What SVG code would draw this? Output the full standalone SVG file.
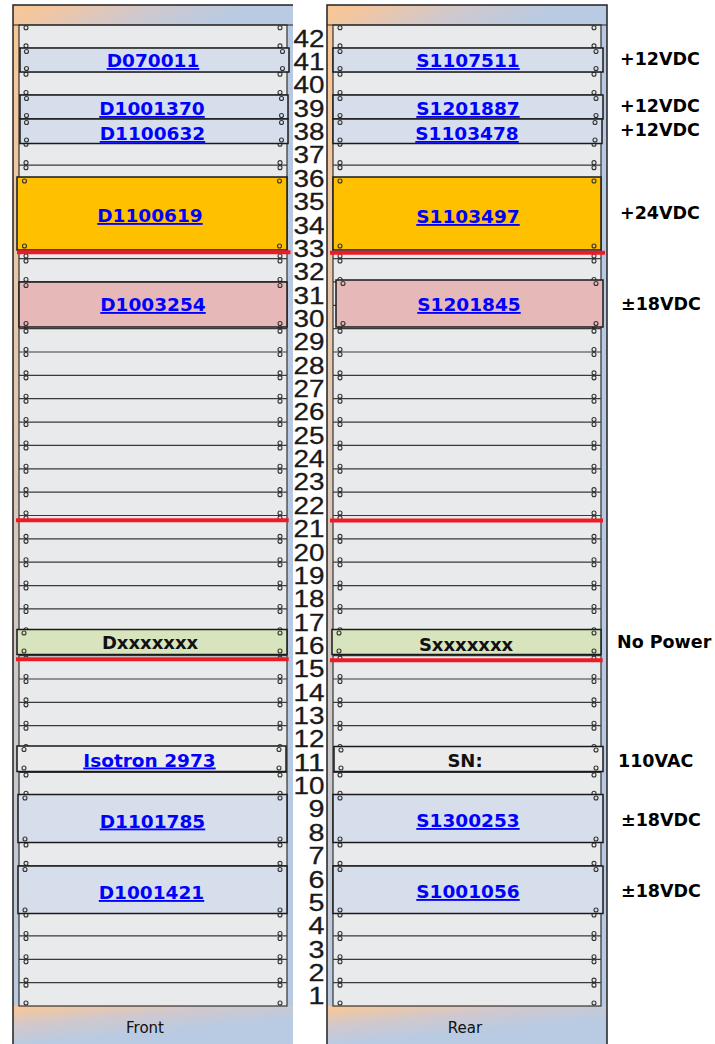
<svg xmlns="http://www.w3.org/2000/svg" xmlns:xlink="http://www.w3.org/1999/xlink" width="715" height="1044" viewBox="0 0 715 1044">
<style>
.lnk{font-family:"DejaVu Sans","Liberation Sans",sans-serif;font-weight:bold;font-size:18.5px;fill:#0000ff;text-decoration:underline;text-anchor:middle}
.blk{font-family:"DejaVu Sans","Liberation Sans",sans-serif;font-weight:bold;font-size:18px;fill:#111;text-anchor:middle}
.pwr{font-family:"DejaVu Sans","Liberation Sans",sans-serif;font-weight:bold;font-size:17.5px;fill:#000}
.num{font-family:"Liberation Sans",Arial,sans-serif;font-size:24.5px;fill:#1a1a1a;text-anchor:end;stroke:#1a1a1a;stroke-width:0.3}
.foot{font-family:"DejaVu Sans","Liberation Sans",sans-serif;font-size:15px;fill:#111;text-anchor:middle}
.dev{stroke:#1a1a1a;stroke-width:1.5}
.blue{fill:#d5deea}
.org{fill:#ffc000}
.pnk{fill:#e6b9b8}
.grn{fill:#d7e4bd}
.gry{fill:#ebebeb}
.red{stroke:#ed1c24;stroke-width:4}
.edge{fill:none;stroke:#222;stroke-width:1.5}
</style>
<defs>
<linearGradient id="gBody" x1="0" y1="0" x2="1" y2="1"><stop offset="0" stop-color="#fbc793"/><stop offset="0.5" stop-color="#b8cae3"/></linearGradient>
<linearGradient id="gHead" x1="0" y1="0" x2="1" y2="0.15"><stop offset="0" stop-color="#fac794"/><stop offset="0.15" stop-color="#f3c69f"/><stop offset="0.5" stop-color="#d0c8cd"/><stop offset="0.85" stop-color="#b8cbe3"/></linearGradient>
<linearGradient id="gFoot" x1="0" y1="0" x2="0.7" y2="1"><stop offset="0" stop-color="#fac794"/><stop offset="0.35" stop-color="#d0c8cd"/><stop offset="0.7" stop-color="#b8cbe3"/></linearGradient>
<circle id="s1" r="2" fill="none" stroke="#333" stroke-width="1.1"/>
<g id="s8" fill="none" stroke="#333" stroke-width="1.1"><circle cy="-2.5" r="2"/><circle cy="2.5" r="2"/></g>
<g id="col">
<use href="#s1" y="27.8"/>
<use href="#s8" y="48.36"/><use href="#s8" y="71.71"/><use href="#s8" y="95.07"/><use href="#s8" y="118.43"/><use href="#s8" y="141.79"/><use href="#s8" y="165.14"/><use href="#s8" y="188.5"/><use href="#s8" y="211.86"/><use href="#s8" y="235.21"/><use href="#s8" y="258.57"/>
<use href="#s8" y="281.93"/><use href="#s8" y="305.29"/><use href="#s8" y="328.64"/><use href="#s8" y="352"/><use href="#s8" y="375.36"/><use href="#s8" y="398.71"/><use href="#s8" y="422.07"/><use href="#s8" y="445.43"/><use href="#s8" y="468.79"/><use href="#s8" y="492.14"/>
<use href="#s8" y="515.5"/><use href="#s8" y="538.86"/><use href="#s8" y="562.21"/><use href="#s8" y="585.57"/><use href="#s8" y="608.93"/><use href="#s8" y="632.29"/><use href="#s8" y="655.64"/><use href="#s8" y="679"/><use href="#s8" y="702.36"/><use href="#s8" y="725.71"/>
<use href="#s8" y="749.07"/><use href="#s8" y="772.43"/><use href="#s8" y="795.79"/><use href="#s8" y="819.14"/><use href="#s8" y="842.5"/><use href="#s8" y="865.86"/><use href="#s8" y="889.21"/><use href="#s8" y="912.57"/><use href="#s8" y="935.93"/><use href="#s8" y="959.29"/>
<use href="#s8" y="982.64"/>
<use href="#s1" y="1003"/>
</g>
<g id="slots">
<rect x="19" y="25" width="268" height="981" fill="#e9eaec" stroke="#333" stroke-width="1.2"/>
<path fill="none" stroke="#3a3a3a" stroke-width="1.2" d="M19 48.36H287M19 71.71H287M19 95.07H287M19 118.43H287M19 141.79H287M19 165.14H287M19 188.5H287M19 211.86H287M19 235.21H287M19 258.57H287M19 281.93H287M19 305.29H287M19 328.64H287M19 352H287M19 375.36H287M19 398.71H287M19 422.07H287M19 445.43H287M19 468.79H287M19 492.14H287M19 515.5H287M19 538.86H287M19 562.21H287M19 585.57H287M19 608.93H287M19 632.29H287M19 655.64H287M19 679H287M19 702.36H287M19 725.71H287M19 749.07H287M19 772.43H287M19 795.79H287M19 819.14H287M19 842.5H287M19 865.86H287M19 889.21H287M19 912.57H287M19 935.93H287M19 959.29H287M19 982.64H287"/>
<use href="#col" x="26"/>
<use href="#col" x="280"/>
</g>
</defs>

<rect x="0" y="0" width="715" height="1044" fill="#ffffff"/>

<g id="rack-front">
<rect x="13" y="5" width="280" height="1045" fill="url(#gBody)"/>
<rect x="13" y="5" width="280" height="20" fill="url(#gHead)"/>
<rect x="13" y="1006" width="280" height="40" fill="url(#gFoot)"/>
<use href="#slots"/>
<path class="edge" d="M293 5H13V1044"/>
<path d="M13 25H293" stroke="#222" stroke-width="1.2"/>
<text class="foot" x="145" y="1033">Front</text>
</g>

<g id="rack-rear">
<rect x="327" y="5" width="280" height="1045" fill="url(#gBody)"/>
<rect x="327" y="5" width="280" height="20" fill="url(#gHead)"/>
<rect x="327" y="1006" width="280" height="40" fill="url(#gFoot)"/>
<use href="#slots" x="314"/>
<path class="edge" d="M327 1044V5H607V1044"/>
<path d="M327 25H607" stroke="#222" stroke-width="1.2"/>
<text class="foot" x="465" y="1033">Rear</text>
</g>

<g id="unit-numbers" class="num">
<text x="324.5" y="46.7" textLength="31" lengthAdjust="spacingAndGlyphs">42</text>
<text x="324.5" y="70.06" textLength="31" lengthAdjust="spacingAndGlyphs">41</text>
<text x="324.5" y="93.41" textLength="31" lengthAdjust="spacingAndGlyphs">40</text>
<text x="324.5" y="116.77" textLength="31" lengthAdjust="spacingAndGlyphs">39</text>
<text x="324.5" y="140.13" textLength="31" lengthAdjust="spacingAndGlyphs">38</text>
<text x="324.5" y="163.49" textLength="31" lengthAdjust="spacingAndGlyphs">37</text>
<text x="324.5" y="186.84" textLength="31" lengthAdjust="spacingAndGlyphs">36</text>
<text x="324.5" y="210.2" textLength="31" lengthAdjust="spacingAndGlyphs">35</text>
<text x="324.5" y="233.56" textLength="31" lengthAdjust="spacingAndGlyphs">34</text>
<text x="324.5" y="256.91" textLength="31" lengthAdjust="spacingAndGlyphs">33</text>
<text x="324.5" y="280.27" textLength="31" lengthAdjust="spacingAndGlyphs">32</text>
<text x="324.5" y="303.63" textLength="31" lengthAdjust="spacingAndGlyphs">31</text>
<text x="324.5" y="326.99" textLength="31" lengthAdjust="spacingAndGlyphs">30</text>
<text x="324.5" y="350.34" textLength="31" lengthAdjust="spacingAndGlyphs">29</text>
<text x="324.5" y="373.7" textLength="31" lengthAdjust="spacingAndGlyphs">28</text>
<text x="324.5" y="397.06" textLength="31" lengthAdjust="spacingAndGlyphs">27</text>
<text x="324.5" y="420.41" textLength="31" lengthAdjust="spacingAndGlyphs">26</text>
<text x="324.5" y="443.77" textLength="31" lengthAdjust="spacingAndGlyphs">25</text>
<text x="324.5" y="467.13" textLength="31" lengthAdjust="spacingAndGlyphs">24</text>
<text x="324.5" y="490.49" textLength="31" lengthAdjust="spacingAndGlyphs">23</text>
<text x="324.5" y="513.84" textLength="31" lengthAdjust="spacingAndGlyphs">22</text>
<text x="324.5" y="537.2" textLength="31" lengthAdjust="spacingAndGlyphs">21</text>
<text x="324.5" y="560.56" textLength="31" lengthAdjust="spacingAndGlyphs">20</text>
<text x="324.5" y="583.91" textLength="31" lengthAdjust="spacingAndGlyphs">19</text>
<text x="324.5" y="607.27" textLength="31" lengthAdjust="spacingAndGlyphs">18</text>
<text x="324.5" y="630.63" textLength="31" lengthAdjust="spacingAndGlyphs">17</text>
<text x="324.5" y="653.99" textLength="31" lengthAdjust="spacingAndGlyphs">16</text>
<text x="324.5" y="677.34" textLength="31" lengthAdjust="spacingAndGlyphs">15</text>
<text x="324.5" y="700.7" textLength="31" lengthAdjust="spacingAndGlyphs">14</text>
<text x="324.5" y="724.06" textLength="31" lengthAdjust="spacingAndGlyphs">13</text>
<text x="324.5" y="747.41" textLength="31" lengthAdjust="spacingAndGlyphs">12</text>
<text x="324.5" y="770.77" textLength="31" lengthAdjust="spacingAndGlyphs">11</text>
<text x="324.5" y="794.13" textLength="31" lengthAdjust="spacingAndGlyphs">10</text>
<text x="324.5" y="817.49" textLength="16" lengthAdjust="spacingAndGlyphs">9</text>
<text x="324.5" y="840.84" textLength="16" lengthAdjust="spacingAndGlyphs">8</text>
<text x="324.5" y="864.2" textLength="16" lengthAdjust="spacingAndGlyphs">7</text>
<text x="324.5" y="887.56" textLength="16" lengthAdjust="spacingAndGlyphs">6</text>
<text x="324.5" y="910.91" textLength="16" lengthAdjust="spacingAndGlyphs">5</text>
<text x="324.5" y="934.27" textLength="16" lengthAdjust="spacingAndGlyphs">4</text>
<text x="324.5" y="957.63" textLength="16" lengthAdjust="spacingAndGlyphs">3</text>
<text x="324.5" y="980.99" textLength="16" lengthAdjust="spacingAndGlyphs">2</text>
<text x="324.5" y="1004.34" textLength="16" lengthAdjust="spacingAndGlyphs">1</text>
</g>

<!-- Front devices -->
<g id="D070011"><rect class="dev blue" x="20" y="48" width="269" height="24"/><use href="#s1" x="26.5" y="51.5"/><use href="#s1" x="26.5" y="68.5"/><use href="#s1" x="282.5" y="51.5"/><use href="#s1" x="282.5" y="68.5"/><text class="lnk" x="153" y="67">D070011</text></g>
<g id="D1001370"><rect class="dev blue" x="20" y="95" width="268" height="24"/><use href="#s1" x="26.5" y="98.5"/><use href="#s1" x="26.5" y="115.5"/><use href="#s1" x="281.5" y="98.5"/><use href="#s1" x="281.5" y="115.5"/><text class="lnk" x="152" y="115">D1001370</text></g>
<g id="D1100632"><rect class="dev blue" x="20" y="119" width="268" height="24.5"/><use href="#s1" x="26.5" y="122.5"/><use href="#s1" x="26.5" y="140"/><use href="#s1" x="281.5" y="122.5"/><use href="#s1" x="281.5" y="140"/><text class="lnk" x="152.5" y="140">D1100632</text></g>
<g id="D1100619"><rect class="dev org" x="17" y="177" width="270" height="73"/><use href="#s1" x="24.5" y="181"/><use href="#s1" x="24.5" y="246"/><use href="#s1" x="279.5" y="181"/><use href="#s1" x="279.5" y="246"/><text class="lnk" x="150" y="222">D1100619</text></g>
<g id="D1003254"><rect class="dev pnk" x="19" y="282" width="268" height="45"/><use href="#s1" x="26" y="285.5"/><use href="#s1" x="26" y="323.5"/><use href="#s1" x="280" y="285.5"/><use href="#s1" x="280" y="323.5"/><text class="lnk" x="153" y="311">D1003254</text></g>
<g id="Dxxxxxxx"><rect class="dev grn" x="17" y="629.5" width="270" height="25"/><use href="#s1" x="24" y="633"/><use href="#s1" x="24" y="651"/><use href="#s1" x="280" y="633"/><use href="#s1" x="280" y="651"/><text class="blk" x="150" y="649">Dxxxxxxx</text></g>
<g id="Isotron2973"><rect class="dev gry" x="17" y="746" width="269" height="25.5"/><use href="#s1" x="24" y="749.5"/><use href="#s1" x="24" y="768"/><use href="#s1" x="279" y="749.5"/><use href="#s1" x="279" y="768"/><text class="lnk" x="149.5" y="766.5">Isotron 2973</text></g>
<g id="D1101785"><rect class="dev blue" x="18" y="794.5" width="269" height="48"/><use href="#s1" x="25" y="798"/><use href="#s1" x="25" y="839"/><use href="#s1" x="280" y="798"/><use href="#s1" x="280" y="839"/><text class="lnk" x="152.5" y="827.5">D1101785</text></g>
<g id="D1001421"><rect class="dev blue" x="18" y="866" width="269" height="47.5"/><use href="#s1" x="25" y="869.5"/><use href="#s1" x="25" y="910"/><use href="#s1" x="280" y="869.5"/><use href="#s1" x="280" y="910"/><text class="lnk" x="151.5" y="899">D1001421</text></g>

<!-- Rear devices -->
<g id="S1107511"><rect class="dev blue" x="333" y="48" width="270" height="24"/><use href="#s1" x="340" y="51.5"/><use href="#s1" x="340" y="68.5"/><use href="#s1" x="596" y="51.5"/><use href="#s1" x="596" y="68.5"/><text class="lnk" x="468" y="67">S1107511</text></g>
<g id="S1201887"><rect class="dev blue" x="333" y="95" width="270" height="24"/><use href="#s1" x="340" y="98.5"/><use href="#s1" x="340" y="115.5"/><use href="#s1" x="596" y="98.5"/><use href="#s1" x="596" y="115.5"/><text class="lnk" x="468" y="115">S1201887</text></g>
<g id="S1103478"><rect class="dev blue" x="333" y="119" width="269" height="24.5"/><use href="#s1" x="340" y="122.5"/><use href="#s1" x="340" y="140"/><use href="#s1" x="595" y="122.5"/><use href="#s1" x="595" y="140"/><text class="lnk" x="467" y="140">S1103478</text></g>
<g id="S1103497"><rect class="dev org" x="333" y="177" width="268" height="73"/><use href="#s1" x="340" y="181"/><use href="#s1" x="340" y="246"/><use href="#s1" x="594" y="181"/><use href="#s1" x="594" y="246"/><text class="lnk" x="468" y="223">S1103497</text></g>
<g id="S1201845"><rect class="dev pnk" x="336" y="280" width="267" height="47"/><use href="#s1" x="343" y="283.5"/><use href="#s1" x="343" y="323.5"/><use href="#s1" x="596" y="283.5"/><use href="#s1" x="596" y="323.5"/><text class="lnk" x="469" y="311">S1201845</text></g>
<g id="Sxxxxxxx"><rect class="dev grn" x="332" y="629.5" width="269" height="25"/><use href="#s1" x="339" y="633"/><use href="#s1" x="339" y="651"/><use href="#s1" x="594" y="633"/><use href="#s1" x="594" y="651"/><text class="blk" x="466" y="650.5">Sxxxxxxx</text></g>
<g id="SN"><rect class="dev gry" x="334" y="746.5" width="269" height="25"/><use href="#s1" x="341" y="750"/><use href="#s1" x="341" y="768"/><use href="#s1" x="596" y="750"/><use href="#s1" x="596" y="768"/><text class="blk" x="465" y="767">SN:</text></g>
<g id="S1300253"><rect class="dev blue" x="333" y="794.5" width="270" height="48"/><use href="#s1" x="340" y="798"/><use href="#s1" x="340" y="839"/><use href="#s1" x="596" y="798"/><use href="#s1" x="596" y="839"/><text class="lnk" x="468" y="827">S1300253</text></g>
<g id="S1001056"><rect class="dev blue" x="333" y="866" width="270" height="47.5"/><use href="#s1" x="340" y="869.5"/><use href="#s1" x="340" y="910"/><use href="#s1" x="596" y="869.5"/><use href="#s1" x="596" y="910"/><text class="lnk" x="468" y="898">S1001056</text></g>

<g id="connectors">
<line class="red" x1="17" y1="252.3" x2="290.5" y2="252.3"/>
<line class="red" x1="16" y1="520.3" x2="288.7" y2="520.3"/>
<line class="red" x1="16" y1="659.3" x2="288.7" y2="659.3"/>
<line class="red" x1="330" y1="252.8" x2="605" y2="252.8"/>
<line class="red" x1="330" y1="520.5" x2="603" y2="520.5"/>
<line class="red" x1="330" y1="660.2" x2="602.7" y2="660.2"/>
</g>

<g id="power-labels" class="pwr">
<text x="620" y="65">+12VDC</text>
<text x="620" y="112">+12VDC</text>
<text x="620" y="136">+12VDC</text>
<text x="620" y="219">+24VDC</text>
<text x="621" y="310">±18VDC</text>
<text x="617" y="648">No Power</text>
<text x="618" y="767">110VAC</text>
<text x="621" y="826">±18VDC</text>
<text x="621" y="897">±18VDC</text>
</g>
</svg>
